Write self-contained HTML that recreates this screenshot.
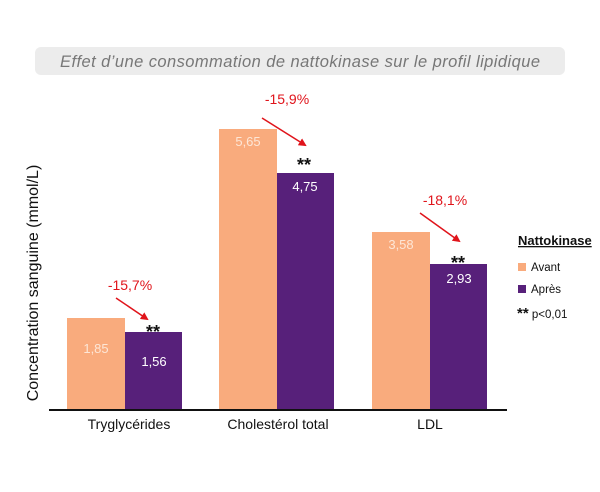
<!DOCTYPE html>
<html><head><meta charset="utf-8"><style>
body{margin:0;background:#fff;}
svg{display:block;font-family:"Liberation Sans",sans-serif;}
</style></head><body>
<svg width="600" height="492" viewBox="0 0 600 492">
<defs><marker id="ah" markerWidth="8" markerHeight="8" refX="6" refY="4" orient="auto" markerUnits="userSpaceOnUse"><path d="M0,0 L8,4 L0,8 z" fill="#e0141b"/></marker></defs>
<rect x="35" y="47" width="530" height="28" rx="6" fill="#ececec"/>
<text x="300" y="67" text-anchor="middle" font-size="16.5" font-style="italic" fill="#777" textLength="480">Effet d’une consommation de nattokinase sur le profil lipidique</text>
<text transform="translate(38,283) rotate(-90)" text-anchor="middle" font-size="16" fill="#111">Concentration sanguine (mmol/L)</text>
<g>
<rect x="67" y="318" width="58" height="92" fill="#f9ab7d"/>
<rect x="125" y="332" width="57" height="78" fill="#57207a"/>
<rect x="219" y="129" width="58" height="281" fill="#f9ab7d"/>
<rect x="277" y="173" width="57" height="237" fill="#57207a"/>
<rect x="372" y="232" width="58" height="178" fill="#f9ab7d"/>
<rect x="430" y="264" width="57" height="146" fill="#57207a"/>
</g>
<line x1="49" y1="410" x2="507" y2="410" stroke="#111" stroke-width="2"/>
<g font-size="13" fill="#fff" text-anchor="middle">
<text x="96" y="353" fill="#fde6d6">1,85</text><text x="154" y="366">1,56</text>
<text x="248" y="146" fill="#fde6d6">5,65</text><text x="305" y="191">4,75</text>
<text x="401" y="249" fill="#fde6d6">3,58</text><text x="459" y="283">2,93</text>
</g>
<g font-size="18" font-weight="bold" fill="#111" text-anchor="middle">
<text x="153" y="338">**</text><text x="304" y="171">**</text><text x="458" y="269">**</text>
</g>
<g font-size="14" fill="#e0141b" text-anchor="middle">
<text x="130" y="290">-15,7%</text><text x="287" y="104">-15,9%</text><text x="445" y="205">-18,1%</text>
</g>
<g stroke="#e0141b" stroke-width="1.5" marker-end="url(#ah)">
<line x1="116" y1="298" x2="147" y2="319"/>
<line x1="262" y1="118" x2="305" y2="145"/>
<line x1="420" y1="213" x2="459" y2="241"/>
</g>
<g font-size="14" fill="#111" text-anchor="middle">
<text x="129" y="429">Tryglycérides</text><text x="278" y="429">Cholestérol total</text><text x="430" y="429">LDL</text>
</g>
<text x="518" y="245" font-size="13" font-weight="bold" fill="#111" text-decoration="underline">Nattokinase</text>
<rect x="518" y="263" width="8" height="8" fill="#f9ab7d"/><text x="531" y="271" font-size="11.5" fill="#111">Avant</text>
<rect x="518" y="285" width="8" height="8" fill="#57207a"/><text x="531" y="293" font-size="11.5" fill="#111">Après</text>
<text x="517" y="318" font-size="11.5" fill="#111"><tspan font-size="15" font-weight="bold">**</tspan> p&lt;0,01</text>
</svg>
</body></html>
